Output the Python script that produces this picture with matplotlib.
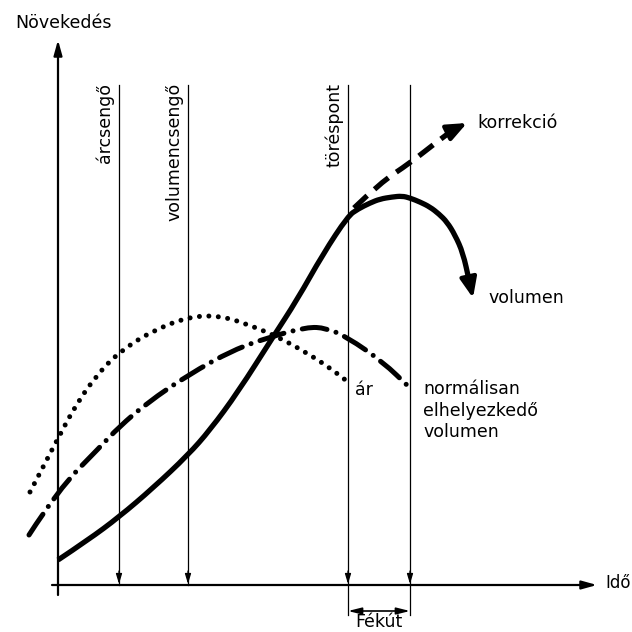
"""
Product life cycle sketch: growth vs time, with price / volume curves
"""

import matplotlib.pyplot as plt
from matplotlib.patches import PathPatch
from matplotlib.path import Path

plt.rcParams["font.family"] = ["DejaVu Sans"]
plt.rcParams["lines.scale_dashes"] = False

# Data (time, growth), origin at axis crossing
vol_t = [0, 30, 61, 95, 130, 152, 180, 215, 239, 265, 290, 300, 312, 322,
         334, 344, 352, 362, 372, 381, 389, 397, 405, 411]
vol_g = [25, 45, 68, 97, 130, 155, 193, 248, 285, 331, 369, 376, 382, 386,
         388, 389, 387, 383, 378, 371, 363, 350, 332, 305]
vol_tip = (415, 287)

price_t = [-28, -1, 19, 39, 60, 92, 132, 165, 199, 220, 249, 272, 290]
price_g = [93, 145, 182, 210, 232, 253, 269, 269, 257, 248, 232, 217, 203]

normal_t = [-29, 0, 42, 61, 89, 130, 175, 212, 249, 268, 289, 325, 352]
normal_g = [50, 95, 138, 158, 182, 210, 235, 248, 258, 257, 248, 223, 197]

corr_t = [296, 322, 352, 380, 395]
corr_g = [377, 402, 422, 444, 455]
corr_tip = (409, 462)

event_t = [61, 130, 290, 352]
event_labels = ["árcsengő", "volumencsengő", "töréspont", ""]
brake_span = (290, 352)


def smooth_path(t, g):
    # quadratic bezier through the midpoints, read points act as controls
    verts = [(t[0], g[0])]
    codes = [Path.MOVETO]
    for i in range(1, len(t) - 1):
        verts += [(t[i], g[i]), ((t[i] + t[i + 1]) / 2, (g[i] + g[i + 1]) / 2)]
        codes += [Path.CURVE3, Path.CURVE3]
    verts.append((t[-1], g[-1]))
    codes.append(Path.LINETO)
    return Path(verts, codes)


def draw_curve(ax, t, g, **kw):
    patch = PathPatch(smooth_path(t, g), fill=False, edgecolor="black",
                      joinstyle="round", **kw)
    ax.add_patch(patch)


fig = plt.figure(figsize=(6.32, 6.32), dpi=100)
ax = fig.add_axes([0, 0, 1, 1])
ax.set_xlim(-58, 574)
ax.set_ylim(-47, 585)
ax.axis("off")

head = dict(color="black", shrinkA=0, shrinkB=0)

# Axes with arrows
ax.annotate("", xy=(0, 545), xytext=(0, -10),
            arrowprops=dict(arrowstyle="-|>,head_length=0.9,head_width=0.25",
                            lw=1.6, **head))
ax.annotate("", xy=(539, 0), xytext=(-6, 0),
            arrowprops=dict(arrowstyle="-|>,head_length=0.9,head_width=0.25",
                            lw=1.6, **head))
ax.text(-43, 562, "Növekedés", fontsize=12.5, va="center", ha="left")
ax.text(547, 2, "Idő", fontsize=12, va="center", ha="left")

# Event lines with small arrows down to the time axis
for t, label in zip(event_t, event_labels):
    bottom = -30 if t in brake_span else 0
    ax.plot([t, t], [500, bottom], color="black", lw=0.9)
    ax.annotate("", xy=(t, 1), xytext=(t, 14),
                arrowprops=dict(arrowstyle="-|>,head_length=0.6,head_width=0.18",
                                lw=0.9, **head))
    if label:
        ax.text(t - 5, 502, label, rotation=90, fontsize=12.5,
                ha="right", va="top")

# Braking distance bracket
ax.annotate("", xy=(brake_span[0], -26), xytext=(brake_span[1], -26),
            arrowprops=dict(arrowstyle="<|-|>,head_length=0.8,head_width=0.2",
                            lw=1.2, **head))
ax.text(sum(brake_span) / 2, -37, "Fékút", fontsize=12.5, ha="center",
        va="center")

# Curves
draw_curve(ax, vol_t, vol_g, lw=3.8, capstyle="butt")
ax.annotate("", xy=vol_tip, xytext=(vol_t[-1], vol_g[-1]),
            arrowprops=dict(arrowstyle="-|>,head_length=1.2,head_width=0.5",
                            lw=3.0, **head))

draw_curve(ax, price_t, price_g, lw=3.6, capstyle="round",
           linestyle=(0, (0.01, 6.8)))

draw_curve(ax, normal_t, normal_g, lw=3.6, capstyle="round",
           linestyle=(0, (18, 6.8, 0.01, 6.8)))

draw_curve(ax, corr_t, corr_g, lw=3.8, capstyle="butt",
           linestyle=(0, (13, 7)))
ax.annotate("", xy=corr_tip, xytext=(corr_t[-1], corr_g[-1]),
            arrowprops=dict(arrowstyle="-|>,head_length=1.2,head_width=0.5",
                            lw=3.0, **head))

# Curve labels
ax.text(419, 462, "korrekció", fontsize=12.5, va="center", ha="left")
ax.text(430, 287, "volumen", fontsize=12.5, va="center", ha="left")
ax.text(297, 195, "ár", fontsize=12.5, va="center", ha="left")
ax.text(365, 205, "normálisan\nelhelyezkedő\nvolumen", fontsize=12.5,
        va="top", ha="left", linespacing=1.25)

fig.savefig("out.png", dpi=100, facecolor="white")
